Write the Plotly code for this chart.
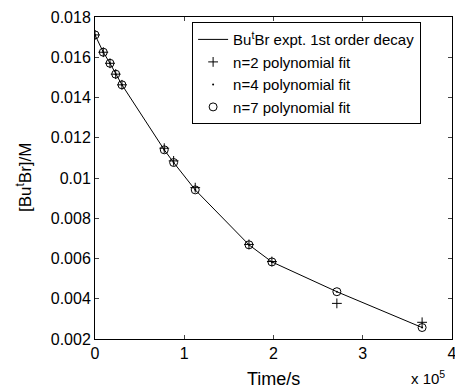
import plotly.graph_objects as go

# Time in units of 1e5 s
time_x = [0.0, 0.093, 0.168, 0.232, 0.302, 0.776, 0.881, 1.123, 1.725, 1.982, 2.71, 3.665]
conc_expt = [0.01711, 0.01625, 0.0157, 0.01516, 0.01463, 0.0114, 0.01077, 0.00941, 0.00668, 0.00583, 0.00435, 0.00257]
fit_n2 = [0.01711, 0.01625, 0.0157, 0.01516, 0.01463, 0.01148, 0.01085, 0.00952, 0.00670, 0.00585, 0.00377, 0.00283]
fit_n4 = [0.01711, 0.01625, 0.0157, 0.01516, 0.01463, 0.0114, 0.01077, 0.00941, 0.00668, 0.00583, 0.00435, 0.00257]
fit_n7 = [0.01711, 0.01625, 0.0157, 0.01516, 0.01463, 0.0114, 0.01077, 0.00941, 0.00668, 0.00583, 0.00435, 0.00257]

x_ticks = [0, 1, 2, 3, 4]
y_ticks = [0.002, 0.004, 0.006, 0.008, 0.01, 0.012, 0.014, 0.016, 0.018]
y_ticktext = ["0.002", "0.004", "0.006", "0.008", "0.01", "0.012", "0.014", "0.016", "0.018"]

FAM = "Liberation Sans, Arial, sans-serif"

fig = go.Figure()
fig.add_trace(go.Scatter(x=time_x, y=conc_expt, mode="lines",
                         line=dict(color="black", width=1),
                         name="Bu<sup>t</sup>Br expt. 1st order decay"))
fig.add_trace(go.Scatter(x=time_x, y=fit_n2, mode="markers",
                         marker=dict(symbol="cross-thin", size=7, color="black",
                                     line=dict(color="black", width=1)),
                         name="n=2 polynomial fit"))
fig.add_trace(go.Scatter(x=time_x, y=fit_n4, mode="markers",
                         marker=dict(symbol="circle", size=2, color="black"),
                         name="n=4 polynomial fit"))
fig.add_trace(go.Scatter(x=time_x, y=fit_n7, mode="markers",
                         marker=dict(symbol="circle-open", size=8, color="black",
                                     line=dict(color="black", width=1)),
                         name="n=7 polynomial fit"))

tickfont = dict(family=FAM, size=16, color="black")
fig.update_layout(
    width=455, height=388,
    margin=dict(l=95, r=3, t=17, b=49),
    paper_bgcolor="white", plot_bgcolor="white",
    font=dict(family=FAM, size=15, color="black"),
    showlegend=True,
    legend=dict(x=0.272, y=0.984, xanchor="left", yanchor="top",
                bgcolor="white", bordercolor="black", borderwidth=1,
                font=dict(family=FAM, size=15, color="black"),
                tracegroupgap=0, itemwidth=30),
    xaxis=dict(range=[0, 4], tickvals=x_ticks, ticks="inside", ticklen=4,
               showline=True, linecolor="black", linewidth=1, mirror="ticks",
               showgrid=False, zeroline=False, tickfont=tickfont, automargin=False,
               ticklabeloverflow="allow"),
    yaxis=dict(range=[0.002, 0.018], tickvals=y_ticks, ticktext=y_ticktext, ticks="inside", ticklen=4,
               showline=True, linecolor="black", linewidth=1, mirror="ticks",
               showgrid=False, zeroline=False, tickfont=tickfont, automargin=False,
               ticklabeloverflow="allow"),
    annotations=[
        dict(text="Time/s", xref="paper", yref="paper", x=0.5, y=-(367 - 339) / 322,
             xanchor="center", yanchor="top", showarrow=False,
             font=dict(family=FAM, size=18, color="black")),
        dict(text="[Bu<sup>t</sup>Br]/M", xref="paper", yref="paper", x=-(95 - 24) / 357, y=0.5,
             xanchor="center", yanchor="middle", textangle=-90, showarrow=False,
             font=dict(family=FAM, size=17, color="black")),
        dict(text="x 10<sup>5</sup>", xref="paper", yref="paper", x=(447 - 95) / 357, y=-(366 - 339) / 322,
             xanchor="right", yanchor="top", showarrow=False,
             font=dict(family=FAM, size=15, color="black")),
    ]
)

fig.write_html("out.html", config={"displayModeBar": False},
               post_script="document.body.style.margin='0';document.body.style.overflow='hidden';")
